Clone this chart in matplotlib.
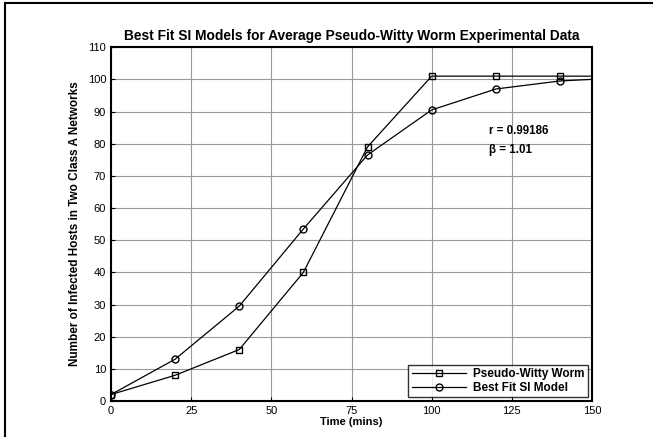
import matplotlib
matplotlib.use("Agg")
import matplotlib.pyplot as plt
from matplotlib.lines import Line2D

plt.rcParams['font.family'] = ['Liberation Sans', 'DejaVu Sans']

time_worm = [0, 20, 40, 60, 80, 100, 120, 140, 150]
hosts_worm = [2, 8, 16, 40, 79, 101, 101, 101, 101]
time_si = [0, 20, 40, 60, 80, 100, 120, 140, 150]
hosts_si = [2, 13, 29.5, 53.5, 76.5, 90.5, 97, 99.5, 100]
xticks = [0, 25, 50, 75, 100, 125, 150]
yticks = list(range(0, 111, 10))

fig = plt.figure(figsize=(6.53, 4.37), dpi=100)
ax = fig.add_axes([0.170, 0.0824, 0.7366, 0.8096])

ax.plot(time_worm, hosts_worm, 'k-', marker='s', mfc='none', ms=5, lw=0.9,
        markevery=list(range(8)), label="Pseudo-Witty Worm")
ax.plot(time_si, hosts_si, 'k-', marker='o', mfc='none', ms=5, lw=0.9,
        markevery=list(range(8)), label="Best Fit SI Model")

ax.set_xlim(0, 150)
ax.set_ylim(0, 110)
ax.set_xticks(xticks)
ax.set_yticks(yticks)
ax.grid(True, color='#999999', lw=0.8)
ax.tick_params(direction='in', length=3, labelsize=8, width=0.8)
for s in ax.spines.values():
    s.set_linewidth(1.5)

ax.set_title("Best Fit SI Models for Average Pseudo-Witty Worm Experimental Data",
             fontsize=9.9, fontweight='bold', pad=5)
ax.set_xlabel("Time (mins)", fontsize=8, fontweight='bold', labelpad=1)
ax.set_ylabel("Number of Infected Hosts in Two Class A Networks", fontsize=8.5,
              fontweight='bold', labelpad=5)

ax.text(118, 83, "r = 0.99186", fontsize=8.3, fontweight='bold')
ax.text(118, 77, "\u03b2 = 1.01", fontsize=8.3, fontweight='bold')

leg = ax.legend(loc='lower right', fancybox=False, edgecolor='black',
                prop={'weight': 'bold', 'size': 8.5}, handlelength=4.6,
                handletextpad=0.6, borderpad=0.3, labelspacing=0.15,
                borderaxespad=0.3)
leg.get_frame().set_linewidth(1.0)

fig.add_artist(Line2D([5/653, 5/653], [0, 1 - 3/437], transform=fig.transFigure,
                      color='black', lw=1.5))
fig.add_artist(Line2D([5/653, 1], [1 - 3/437, 1 - 3/437], transform=fig.transFigure,
                      color='black', lw=1.5))

fig.savefig("out.png", dpi=100)
